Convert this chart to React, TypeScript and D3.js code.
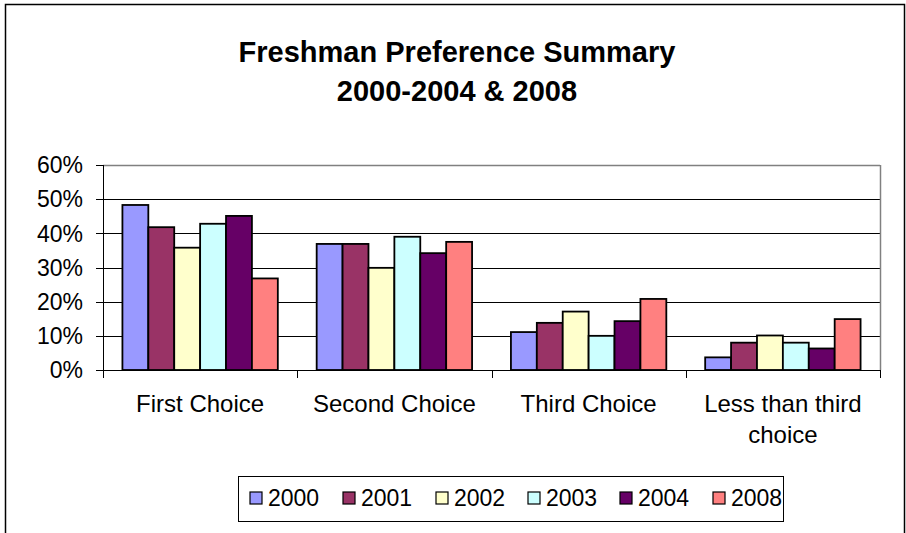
import React from "react";
import * as d3 from "d3";

const categories = ["First Choice", "Second Choice", "Third Choice", "Less than third choice"];
const categoryLines = [["First Choice"], ["Second Choice"], ["Third Choice"], ["Less than third", "choice"]];
const years = ["2000", "2001", "2002", "2003", "2004", "2008"];
const colors = ["#9999FF", "#993366", "#FFFFCC", "#CCFFFF", "#660066", "#FF8080"];
// values per year, ordered by category (percent)
const v2000 = [48.3, 36.9, 11.1, 3.7];
const v2001 = [41.8, 36.9, 13.8, 8.0];
const v2002 = [35.8, 29.9, 17.1, 10.1];
const v2003 = [42.8, 39.0, 10.0, 8.0];
const v2004 = [45.1, 34.2, 14.3, 6.3];
const v2008 = [26.8, 37.5, 20.8, 14.9];
const series = [v2000, v2001, v2002, v2003, v2004, v2008];
const yTicks = [0, 10, 20, 30, 40, 50, 60];
const titleLines = ["Freshman Preference Summary", "2000-2004 & 2008"];

export default function App() {
  const W = 906, H = 533;
  const left = 103, right = 880, top = 165, bottom = 370;
  const x0 = d3.scaleBand<string>().domain(categories).range([left, right]).paddingInner(0).paddingOuter(0);
  const x1 = d3.scaleBand<string>().domain(years).range([0, x0.bandwidth()]).paddingInner(0).paddingOuter(0.75);
  const y = d3.scaleLinear().domain([0, 60]).range([bottom, top]);
  const font = "'Liberation Sans', Arial, sans-serif";
  const boundaries = categories.map((c) => x0(c)!).concat([right]);

  const legendItemX = [250, 343, 436, 528, 620, 713];

  return (
    <svg width={W} height={H} style={{ position: "absolute", left: 0, top: 0 }} fontFamily={font}>
      <rect x={0} y={0} width={W} height={H} fill="#fff" />
      {/* outer chart frame */}
      <rect x={5.5} y={4.5} width={899} height={560} fill="none" stroke="#000" strokeWidth={1.5} />
      {/* title */}
      {titleLines.map((t, i) => (
        <text key={t} x={457} y={62 + i * 39} textAnchor="middle" fontWeight="bold" fontSize={29} fill="#000">
          {t}
        </text>
      ))}
      {/* gridlines */}
      {yTicks.slice(1).map((t) => (
        <line key={t} x1={left} x2={right} y1={Math.round(y(t)) + 0.5} y2={Math.round(y(t)) + 0.5} stroke="#000" strokeWidth={1} />
      ))}
      {/* plot border top/right */}
      <line x1={left} x2={right} y1={top + 0.5} y2={top + 0.5} stroke="#808080" strokeWidth={1.5} />
      <line x1={right + 0.5} x2={right + 0.5} y1={top} y2={bottom} stroke="#808080" strokeWidth={1.5} />
      {/* bars */}
      {series.map((vals, si) =>
        vals.map((v, ci) => (
          <rect
            key={si + "-" + ci}
            x={x0(categories[ci])! + x1(years[si])!}
            y={y(v)}
            width={x1.bandwidth()}
            height={y(0) - y(v)}
            fill={colors[si]}
            stroke="#000"
            strokeWidth={1.8}
          />
        ))
      )}
      {/* y axis */}
      <line x1={left + 0.5} x2={left + 0.5} y1={top} y2={bottom + 8} stroke="#000" strokeWidth={1} />
      {yTicks.map((t) => (
        <g key={t}>
          <line x1={left - 7} x2={left} y1={Math.round(y(t)) + 0.5} y2={Math.round(y(t)) + 0.5} stroke="#000" />
          <text x={83} y={y(t)} dy="0.36em" textAnchor="end" fontSize={23} fill="#000">
            {t + "%"}
          </text>
        </g>
      ))}
      {/* x axis */}
      <line x1={left} x2={right} y1={bottom + 0.5} y2={bottom + 0.5} stroke="#000" strokeWidth={1} />
      {boundaries.map((b, i) => (
        <line key={i} x1={Math.round(b) + 0.5} x2={Math.round(b) + 0.5} y1={bottom} y2={bottom + 8} stroke="#000" />
      ))}
      {categories.map((c, i) => (
        <text key={c} x={x0(c)! + x0.bandwidth() / 2} y={412} textAnchor="middle" fontSize={24} fill="#000">
          {categoryLines[i].map((l, li) => (
            <tspan key={li} x={x0(c)! + x0.bandwidth() / 2} dy={li === 0 ? 0 : 31}>
              {l}
            </tspan>
          ))}
        </text>
      ))}
      {/* legend */}
      <rect x={238.5} y={476.5} width={545} height={45} fill="#fff" stroke="#000" strokeWidth={1} />
      {years.map((yr, i) => (
        <g key={yr}>
          <rect x={legendItemX[i]} y={492} width={12} height={12} fill={colors[i]} stroke="#000" strokeWidth={1.2} />
          <text x={legendItemX[i] + 18} y={498} dy="0.36em" fontSize={23} fill="#000">
            {yr}
          </text>
        </g>
      ))}
    </svg>
  );
}
